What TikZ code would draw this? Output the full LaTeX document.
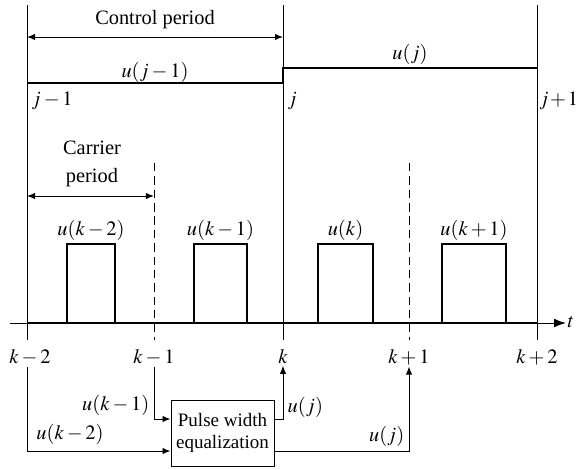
\documentclass[tikz,border=0pt]{standalone}
\usepackage{mathptmx}
\usepackage{fontspec}
\setmainfont{Liberation Serif}
\usetikzlibrary{arrows.meta, positioning}

\begin{document}
\begin{tikzpicture}[x=0.025cm, y=-0.025cm, font=\fontsize{14.5}{17.5}\selectfont,
  grid/.style={line width=0.7pt},
  sig/.style={line width=1.5pt},
  arr/.style={-{Latex[length=2mm, width=1.6mm]}, line width=0.7pt},
  lab/.style={inner sep=1pt}]
\useasboundingbox (0,0) rectangle (580,469);
% period boundaries
\foreach \x in {27, 283, 537}{\draw[grid] (\x,5) -- (\x,340);}
\foreach \x in {154, 409}{\draw[grid, dash pattern=on 6pt off 3.5pt] (\x,163) -- (\x,340);}
% control period
\node[lab] (ctrl) at (155,20) {Control period};
\draw[grid, {Latex[length=2mm, width=1.6mm]}-{Latex[length=2mm, width=1.6mm]}] (27,37) -- (283,37);
\draw[sig] (27,83) -- (283,83) -- (283,68) -- (537,68);
\node[lab] (uj1) at (155,72) {$u(j-1)$};
\node[lab] (uj) at (410,54) {$u(j)$};
\node[lab, anchor=west] (jm1) at (30,101) {$j-1$};
\node[lab, anchor=west] (j0) at (286,101) {$j$};
\node[anchor=west, inner sep=0pt] (jp1) at (539,101) {$j\mkern-1mu+\mkern-1mu1$};
% carrier period
\node[lab, align=center] (carr) at (92,164) {Carrier\\[2pt]period};
\draw[grid, {Latex[length=2mm, width=1.6mm]}-{Latex[length=2mm, width=1.6mm]}] (27,196) -- (154,196);
% time axis and pulses
\draw[grid, -{Latex[length=3mm, width=2.2mm]}] (10,323) -- (566,323);
\node[lab, anchor=west] (t) at (566,322) {$t$};
\draw[sig] (27,323) -- (537,323);
\foreach \a/\b/\name in {67/115/k-2, 194/247/k-1, 318/373/k, 442/506/k+1}{
  \draw[sig] (\a,323) -- (\a,244) -- (\b,244) -- (\b,323);
  \node[lab, anchor=south] at ({(\a+\b)/2},242) {$u(\name)$};}
% sampling instants
\node[lab] (km2) at (30,357) {$k-2$};
\node[lab] (km1) at (154,357) {$k-1$};
\node[lab] (k0) at (283,357) {$k$};
\node[lab] (kp1) at (409,357) {$k+1$};
\node[lab] (kp2) at (537,357) {$k+2$};
% pulse width equalization
\node[draw, grid, align=center, font=\fontsize{13.5}{16}\selectfont, minimum width=103*0.025cm, minimum height=66*0.025cm, inner sep=2pt] (pwe) at (222.5,433) {Pulse width\\equalization};
\coordinate (inA) at (pwe.west |- 0,419);
\coordinate (inB) at (pwe.west |- 0,451);
\coordinate (outA) at (pwe.east |- 0,419);
\coordinate (outB) at (pwe.east |- 0,451);
\draw[arr] (km1.south -| 154,0) |- (inA);
\draw[arr] (km2.south -| 27,0) |- (inB);
\draw[arr] (outA) -| (k0.south);
\draw[arr] (outB) -| (kp1.south);
\node[lab, anchor=east] at (151,405) {$u(k-1)$};
\node[lab] at (70,434) {$u(k-2)$};
\node[lab, anchor=west] at (286,407) {$u(j)$};
\node[lab, anchor=east] at (406,436) {$u(j)$};
\end{tikzpicture}
\end{document}
